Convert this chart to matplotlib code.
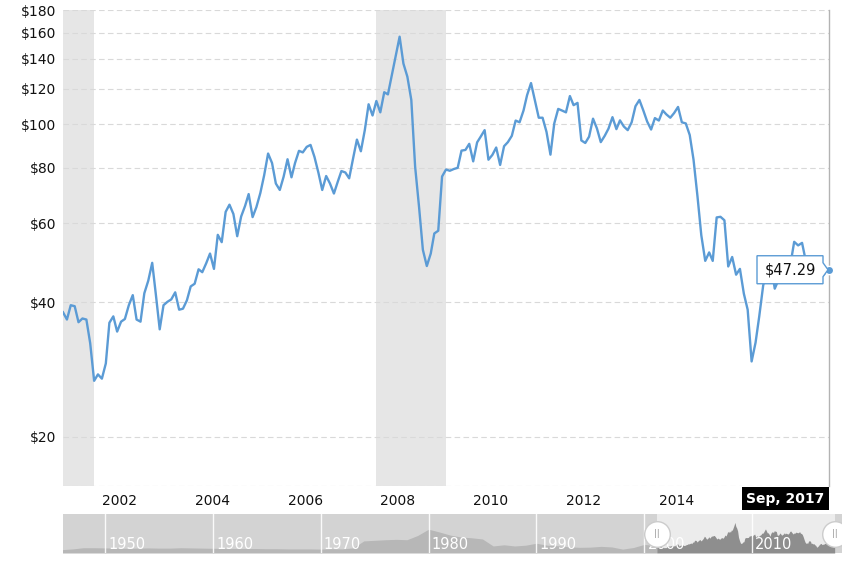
import numpy as np
import pandas as pd
import matplotlib
matplotlib.use("Agg")
import matplotlib.pyplot as plt
import matplotlib.dates as mdates
from matplotlib.patches import Rectangle, Polygon
from matplotlib.transforms import IdentityTransform
from matplotlib.ticker import NullLocator

# =========================================================
# DATA  (crude oil price, inflation adjusted, monthly)
# =========================================================
START_MONTH = "2001-03-01"

price = [
    # 2001 (Mar - Dec)
    38.0, 36.6, 39.4, 39.2, 36.1, 36.8, 36.6, 32.4, 26.7, 27.6,
    # 2002
    27.0, 29.2, 36.0, 37.2, 34.4, 36.2, 36.7, 39.4, 41.5, 36.6, 36.2, 41.9,
    # 2003
    44.7, 49.0, 41.8, 34.8, 39.4, 40.1, 40.6, 42.1, 38.5, 38.7, 40.4, 43.4,
    # 2004
    44.0, 47.4, 46.7, 48.9, 51.4, 47.5, 56.6, 54.5, 63.7, 66.1, 63.0, 56.2,
    # 2005
    62.2, 65.7, 69.8, 62.0, 65.3, 70.2, 76.9, 86.0, 81.9, 73.7, 71.3, 76.3,
    # 2006
    83.5, 76.1, 81.9, 87.2, 86.5, 89.0, 89.9, 84.5, 77.9, 71.3, 76.6, 73.7,
    # 2007
    70.0, 74.5, 78.6, 78.0, 75.7, 83.9, 92.4, 87.0, 97.0, 110.8, 104.6, 112.7,
    # 2008
    106.3, 117.9, 116.6, 128.8, 141.9, 156.9, 136.6, 127.7, 113.3, 80.4, 65.3, 52.4,
    # 2009
    48.2, 51.4, 57.0, 57.8, 76.4, 79.2, 78.7, 79.4, 79.9, 87.3, 87.6, 90.4,
    # 2010
    82.6, 91.1, 93.8, 97.0, 83.3, 85.4, 88.7, 81.1, 89.3, 91.2, 94.2, 101.9,
    # 2011
    101.0, 107.3, 116.1, 123.6, 113.3, 103.4, 103.4, 96.1, 85.5, 100.4, 108.2, 107.3,
    # 2012
    106.3, 115.6, 110.3, 111.6, 92.0, 90.8, 93.8, 102.9, 97.8, 91.2, 94.2, 97.8,
    # 2013
    103.7, 97.5, 102.0, 98.8, 97.0, 101.0, 109.7, 113.3, 107.3, 101.4, 97.3, 103.2,
    # 2014
    101.9, 107.3, 105.2, 103.4, 105.9, 109.3, 101.0, 100.4, 94.6, 83.3, 69.0, 56.5,
    # 2015
    49.5, 51.7, 49.5, 61.9, 62.1, 61.0, 48.1, 50.5, 46.1, 47.5, 41.8, 38.5,
    # 2016
    29.5, 32.5, 37.2, 43.6, 47.5, 49.0, 42.9, 45.0, 45.5, 49.0, 48.5, 54.6,
    # 2017 (Jan - Sep)
    53.6, 54.3, 49.7, 50.5, 48.0, 44.5, 45.5, 46.5, 47.29,
]

recessions = [
    ("2001-03-01", "2001-11-01"),
    ("2007-12-01", "2009-06-01"),
]

y_ticks = [20, 40, 60, 80, 100, 120, 140, 160, 180]
x_tick_years = [2002, 2004, 2006, 2008, 2010, 2012, 2014]

# navigator: long history, yearly
nav_years = [
    1946, 1947, 1948, 1949, 1950, 1951, 1952, 1953, 1954, 1955,
    1956, 1957, 1958, 1959, 1960, 1961, 1962, 1963, 1964, 1965,
    1966, 1967, 1968, 1969, 1970, 1971, 1972, 1973, 1974, 1975,
    1976, 1977, 1978, 1979, 1980, 1981, 1982, 1983, 1984, 1985,
    1986, 1987, 1988, 1989, 1990, 1991, 1992, 1993, 1994, 1995,
    1996, 1997, 1998, 1999, 2000,
]
nav_prices = [
    17, 21, 27, 27, 26, 25, 24, 25, 26, 25,
    25, 27, 26, 25, 24, 24, 23, 23, 23, 22,
    22, 21, 21, 21, 20, 22, 21, 26, 62, 65,
    68, 70, 68, 90, 122, 108, 92, 82, 78, 72,
    36, 42, 36, 40, 50, 40, 37, 32, 29, 30,
    34, 31, 20, 28, 44,
]
nav_decades = [1950, 1960, 1970, 1980, 1990, 2000, 2010]

# =========================================================
# STYLE
# =========================================================
W, H = 842, 563
LINE_COLOR = "#5b9bd5"
BAND_COLOR = "#e6e6e6"
GRID_COLOR = "#d9d9d9"
Y_MIN, Y_MAX = 15.54, 180

plt.rcParams["font.family"] = ["DejaVu Sans"]


def fig_box(x0, y0, x1, y1):
    """pixel box (top-left origin) -> figure fraction [l, b, w, h]"""
    return [x0 / W, 1 - y1 / H, (x1 - x0) / W, (y1 - y0) / H]


months = pd.date_range(START_MONTH, periods=len(price), freq="MS")

fig = plt.figure(figsize=(W / 100, H / 100), dpi=100)
fig.patch.set_facecolor("white")

# =========================================================
# MAIN CHART
# =========================================================
ax = fig.add_axes(fig_box(63, 10, 829, 486))

for start, end in recessions:
    ax.axvspan(pd.Timestamp(start), pd.Timestamp(end), color=BAND_COLOR, lw=0, zorder=0)

ax.set_yscale("log")
ax.set_ylim(Y_MIN, Y_MAX)
ax.set_xlim(months[0], months[-1])

for yv in y_ticks + [Y_MIN]:
    ax.axhline(yv, color=GRID_COLOR, lw=0.8, ls=(0, (5, 3)), zorder=1)

ax.plot(months, price, color=LINE_COLOR, lw=1.7, zorder=3, solid_joinstyle="round")

ax.set_yticks(y_ticks)
ax.set_yticklabels([f"${v}" for v in y_ticks])
ax.yaxis.set_minor_locator(NullLocator())

ax.set_xticks([pd.Timestamp(f"{yr}-01-01") for yr in x_tick_years])
ax.set_xticklabels([str(yr) for yr in x_tick_years], ha="left")
ax.tick_params(axis="both", length=0, labelsize=10, colors="#111111")
ax.tick_params(axis="x", pad=6)
ax.tick_params(axis="y", pad=5)

for side in ["left", "top", "bottom"]:
    ax.spines[side].set_visible(False)
ax.spines["right"].set_color("#b3b3b3")
ax.spines["right"].set_linewidth(1.0)

# last point marker + tooltip
fig.canvas.draw()
tx, ty = ax.transData.transform((mdates.date2num(months[-1]), price[-1]))

ax.plot([months[-1]], [price[-1]], "o", ms=6, color=LINE_COLOR, mec="white",
        mew=1, zorder=6, clip_on=False)

tip = Polygon(
    [(tx - 6, ty + 7), (tx - 6, ty + 14), (tx - 72, ty + 14), (tx - 72, ty - 14),
     (tx - 6, ty - 14), (tx - 6, ty - 7), (tx - 1, ty)],
    closed=True, facecolor="white", edgecolor=LINE_COLOR, lw=1,
    transform=IdentityTransform(), zorder=7,
)
fig.add_artist(tip)
fig.text((tx - 39) / W, ty / H, f"${price[-1]:.2f}", ha="center", va="center",
         fontsize=10.5, color="#111111", zorder=8)

# date label under the last point
fig.add_artist(Rectangle((tx - 87, H - 510), 87, 23, facecolor="black",
                         edgecolor="none", transform=IdentityTransform(), zorder=7))
fig.text((tx - 43.5) / W, (H - 498.5) / H, months[-1].strftime("%b, %Y"),
         ha="center", va="center", fontsize=10, fontweight="bold",
         color="white", zorder=8)

# =========================================================
# NAVIGATOR
# =========================================================
nav = fig.add_axes(fig_box(63, 514, 842, 553))
px_per_year = (752 - 105) / 60.0
nav_x0 = 1950 - (105 - 63) / px_per_year
nav_x1 = 1950 + (842 - 105) / px_per_year
nav.set_xlim(nav_x0, nav_x1)
nav.set_ylim(0, 200)
nav.set_facecolor("#d3d3d3")
for s in nav.spines.values():
    s.set_visible(False)
nav.set_xticks([])
nav.set_yticks([])

main_years = np.array([d.year + (d.month - 1) / 12.0 for d in months])
all_x = np.concatenate([np.array(nav_years, dtype=float), main_years])
all_y = np.concatenate([np.array(nav_prices, dtype=float), np.array(price)])

sel0, sel1 = main_years[0], main_years[-1]
nav.axvspan(sel0, sel1, color="#ececec", lw=0, zorder=0)

outside = all_x <= sel0
inside = all_x >= sel0
nav.fill_between(all_x[outside], 0, all_y[outside], color="#b7b7b7", lw=0, zorder=1)
nav.fill_between(all_x[inside], 0, all_y[inside], color="#8e8e8e", lw=0, zorder=1)

for dec in nav_decades:
    nav.axvline(dec, color="white", lw=1, alpha=0.9, zorder=2)
    nav.text(dec + 0.3, 45, str(dec), color="white", fontsize=10.5,
             ha="left", va="center", zorder=3)

for hx in [sel0, sel1]:
    nav.scatter([hx], [100], s=340, facecolor="white", edgecolor="#cccccc",
                lw=1, zorder=5, clip_on=False)
    nav.text(hx, 100, "||", ha="center", va="center", fontsize=6,
             color="#999999", zorder=6, clip_on=False)

fig.savefig("out.png", dpi=100, facecolor="white")
